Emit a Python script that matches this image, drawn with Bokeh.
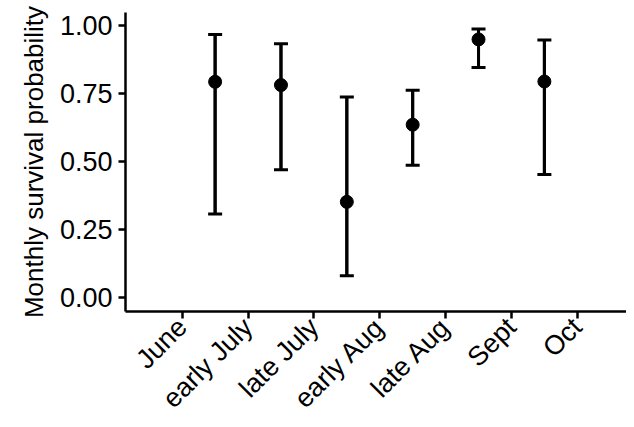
import numpy as np
from bokeh.plotting import figure
from bokeh.models import Range1d, FixedTicker, ColumnDataSource, Whisker
from bokeh.embed import file_html
from bokeh.resources import INLINE

months = ["June", "early July", "late July", "early Aug", "late Aug", "Sept", "Oct"]
estimate = [0.794, 0.782, 0.352, 0.636, 0.950, 0.795]
upper = [0.968, 0.934, 0.738, 0.763, 0.988, 0.948]
lower = [0.307, 0.470, 0.080, 0.487, 0.847, 0.453]

tick_x = list(range(1, len(months) + 1))
mid_x = [t + 0.5 for t in tick_x[:len(estimate)]]

src = ColumnDataSource(dict(x=mid_x, y=estimate, up=upper, lo=lower))

p = figure(width=626, height=427, output_backend="svg", toolbar_location=None,
           x_range=Range1d(0.139, 7.747), y_range=Range1d(-0.0515, 1.049),
           min_border_left=125, min_border_right=0, min_border_top=12, min_border_bottom=116)
p.outline_line_color = None
p.xgrid.visible = False
p.ygrid.visible = False
p.background_fill_color = "white"
p.border_fill_color = "white"

p.segment(x0="x", y0="lo", x1="x", y1="up", source=src, line_color="black", line_width=3)
w = Whisker(base="x", upper="up", lower="lo", source=src, dimension="height",
            line_color="black", line_width=3)
w.upper_head.size = 14
w.lower_head.size = 14
w.upper_head.line_width = 3
w.lower_head.line_width = 3
w.upper_head.line_color = "black"
w.lower_head.line_color = "black"
p.add_layout(w)
p.scatter(x="x", y="y", source=src, size=13, fill_color="black", line_color="black")

p.xaxis.ticker = FixedTicker(ticks=tick_x)
p.xaxis.major_label_overrides = {t: m for t, m in zip(tick_x, months)}
p.xaxis.major_label_orientation = np.pi / 4
p.yaxis.ticker = FixedTicker(ticks=[0, 0.25, 0.5, 0.75, 1.0])
p.yaxis.major_label_overrides = {0: "0.00", 0.25: "0.25", 0.5: "0.50", 0.75: "0.75", 1.0: "1.00"}
p.yaxis.axis_label = "Monthly survival probability"

for ax in (p.xaxis, p.yaxis):
    ax.axis_line_color = "black"
    ax.axis_line_width = 2.5
    ax.major_tick_line_color = "black"
    ax.major_tick_line_width = 2.5
    ax.major_tick_out = 7
    ax.major_tick_in = 0
    ax.minor_tick_line_color = None
    ax.major_label_text_font = "Liberation Sans"
    ax.major_label_text_font_size = "27px"
    ax.major_label_text_color = "black"
    ax.axis_label_text_font = "Liberation Sans"
    ax.axis_label_text_font_size = "26px"
    ax.axis_label_text_font_style = "normal"
    ax.axis_label_text_color = "black"
p.yaxis.major_label_standoff = 6
p.yaxis.axis_label_standoff = 8
p.xaxis.major_label_standoff = 4

open("out.html", "w").write(file_html(p, INLINE))
